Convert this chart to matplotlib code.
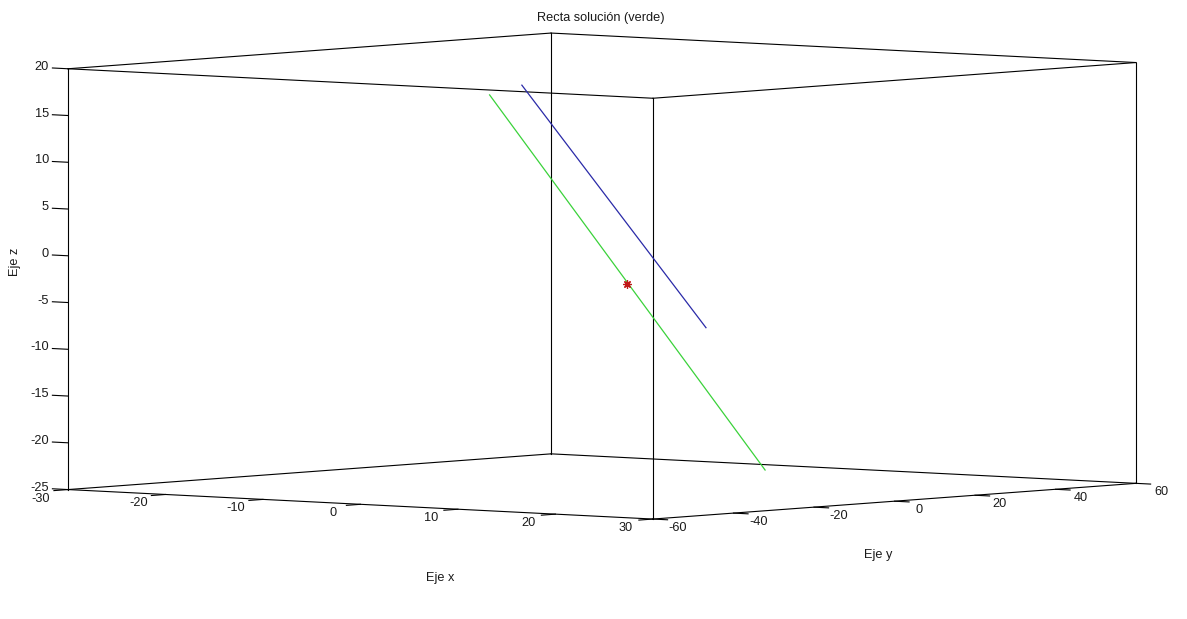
import itertools
import numpy as np
import matplotlib
matplotlib.use("Agg")
import matplotlib.pyplot as plt
from mpl_toolkits.mplot3d import proj3d

# axis ranges and ticks
x_lim = [-30, 30]
y_lim = [-60, 60]
z_lim = [-25, 20]
x_ticks = [-30, -20, -10, 0, 10, 20, 30]
y_ticks = [-60, -40, -20, 0, 20, 40, 60]
z_ticks = [-25, -20, -15, -10, -5, 0, 5, 10, 15, 20]

# recta dada (azul)
blue_x = [-5.0, 15.0]
blue_y = [-7.8, -10.5]
blue_z = [17.9, -6.9]

# recta solucion (verde)
green_x = [-7.4, 12.6]
green_y = [-10.0, 10.0]
green_z = [16.8, -22.9]

# punto
star_x = [2.6]
star_y = [0.0]
star_z = [-3.2]

W, H = 1187, 619
text_color = "#1a1a1a"
plt.rcParams["font.family"] = ["Liberation Sans", "DejaVu Sans"]
plt.rcParams["font.size"] = 9.2

fig = plt.figure(figsize=(W / 100, H / 100), dpi=100)
fig.patch.set_facecolor("white")
ax = fig.add_axes([0, 0, 1, 1], projection="3d", proj_type="ortho")
ax.view_init(elev=3.5, azim=-50.45)
ax.set_axis_off()

# box edges (box on)
corners = list(itertools.product(x_lim, y_lim, z_lim))
for a, b in itertools.combinations(corners, 2):
    if sum(p != q for p, q in zip(a, b)) == 1:
        ax.plot(*zip(a, b), color="black", lw=0.8, clip_on=False)

# tick marks
for xt in x_ticks:
    ax.plot([xt, xt], [y_lim[0], y_lim[0] - 3.5], [z_lim[0]] * 2, color="black", lw=0.8, clip_on=False)
for yt in y_ticks:
    ax.plot([x_lim[1], x_lim[1] + 1.5], [yt, yt], [z_lim[0]] * 2, color="black", lw=0.8, clip_on=False)
for zt in z_ticks:
    ax.plot([x_lim[0], x_lim[0] - 1.6], [y_lim[0]] * 2, [zt, zt], color="black", lw=0.8, clip_on=False)

# data
ax.plot(blue_x, blue_y, blue_z, color="#2a2aa8", lw=0.9, clip_on=False)
ax.plot(green_x, green_y, green_z, color="#3ad23a", lw=0.9, clip_on=False)
ax.plot(star_x, star_y, star_z, linestyle="none", marker=(8, 2, 0), markersize=6,
        markeredgecolor="#c01818", markeredgewidth=0.9, clip_on=False)

ax.set_xlim(x_lim)
ax.set_ylim(y_lim)
ax.set_zlim(z_lim)

# fit the projected box to the reference pixel positions
ref_x = [x_lim[0], x_lim[1], x_lim[0], x_lim[1]]
ref_y = [y_lim[0], y_lim[1], y_lim[1], y_lim[0]]
ref_z = [z_lim[0], z_lim[0], z_lim[1], z_lim[0]]
target = np.array([[68, H - 490], [1136, H - 483], [551, H - 33], [653, H - 519]], dtype=float)


def to_pixels(xs, ys, zs):
    fig.canvas.draw()
    px, py, _ = proj3d.proj_transform(np.asarray(xs, float), np.asarray(ys, float),
                                      np.asarray(zs, float), ax.get_proj())
    return ax.transData.transform(np.column_stack([px, py]))


zoom, az = 1.0, 0.56
for _ in range(5):
    ax.set_box_aspect((1, 1, az), zoom=zoom)
    p = to_pixels(ref_x, ref_y, ref_z)
    sx = (target[1, 0] - target[0, 0]) / (p[1, 0] - p[0, 0])
    sy = (target[2, 1] - target[3, 1]) / (p[2, 1] - p[3, 1])
    zoom *= sx
    az *= sy / sx
ax.set_box_aspect((1, 1, az), zoom=zoom)
p = to_pixels(ref_x, ref_y, ref_z)
shift = (target - p).mean(axis=0)
ax.set_position([shift[0] / W, shift[1] / H, 1, 1])


# tick labels, placed next to the projected tick positions
def tick_labels(xs, ys, zs, labels, dx, dy, ha):
    pts = to_pixels(xs, ys, zs)
    for (px, py), s in zip(pts, labels):
        fig.text((px + dx) / W, (py + dy) / H, s, ha=ha, va="center", color=text_color)


tick_labels(x_ticks, [y_lim[0]] * len(x_ticks), [z_lim[0]] * len(x_ticks),
            [str(t) for t in x_ticks], -27, -9, "center")
tick_labels([x_lim[1]] * len(y_ticks), y_ticks, [z_lim[0]] * len(y_ticks),
            [str(t) for t in y_ticks], 25, -9, "center")
tick_labels([x_lim[0]] * len(z_ticks), [y_lim[0]] * len(z_ticks), z_ticks,
            [str(t) for t in z_ticks], -19, 2, "right")

# titles
fig.text(601 / W, 1 - 18 / H, "Recta solución (verde)", ha="center", va="center", color=text_color)
fig.text(440 / W, 1 - 578 / H, "Eje x", ha="center", va="center", color=text_color)
fig.text(878 / W, 1 - 555 / H, "Eje y", ha="center", va="center", color=text_color)
fig.text(15 / W, 1 - 262 / H, "Eje z", ha="center", va="center", rotation=90, color=text_color)

fig.savefig("out.png", dpi=100)
